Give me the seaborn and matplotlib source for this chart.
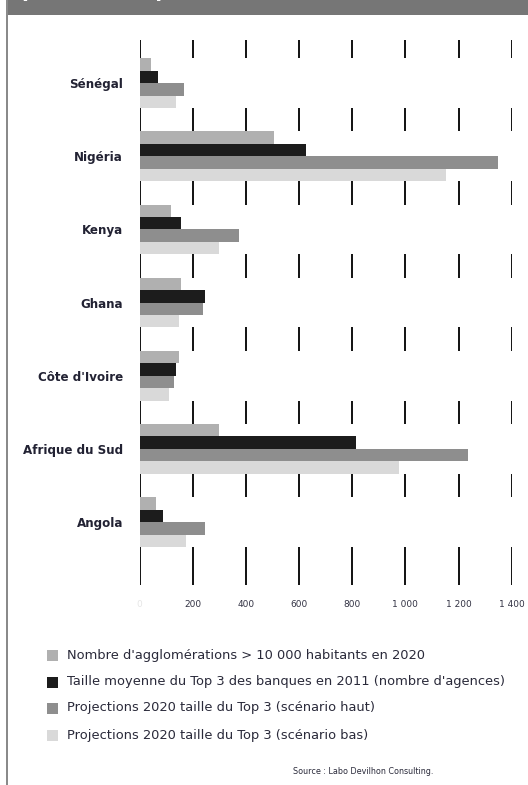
import numpy as np
import pandas as pd
import matplotlib
matplotlib.use("Agg")
import matplotlib.pyplot as plt
from matplotlib.patches import Rectangle
import seaborn as sns

# Countries and series
countries = ["Sénégal", "Nigéria", "Kenya", "Ghana", "Côte d'Ivoire", "Afrique du Sud", "Angola"]
series = [
    "Nombre d'agglomérations > 10 000 habitants en 2020",
    "Taille moyenne du Top 3 des banques en 2011 (nombre d'agences)",
    "Projections 2020 taille du Top 3 (scénario haut)",
    "Projections 2020 taille du Top 3 (scénario bas)",
]
agglomerations = [45, 505, 120, 157, 147, 300, 61]
taille_2011 = [70, 626, 157, 248, 139, 814, 90]
proj_haut = [167, 1347, 374, 238, 129, 1236, 248]
proj_bas = [137, 1154, 300, 147, 110, 975, 175]
x_ticks = [0, 200, 400, 600, 800, 1000, 1200, 1400]
x_tick_labels = ["0", "200", "400", "600", "800", "1 000", "1 200", "1 400"]
colors = ["#b0b0b0", "#1c1c1c", "#8e8e8e", "#d9d9d9"]

df = pd.DataFrame({
    "pays": countries * 4,
    "serie": np.repeat(series, len(countries)),
    "valeur": agglomerations + taille_2011 + proj_haut + proj_bas,
})

sns.set_theme(style="white")
plt.rcParams["font.family"] = ["DejaVu Sans"]

W, H = 528, 785
fig = plt.figure(figsize=(W / 100, H / 100), dpi=100)
fig.patch.set_facecolor("white")

ax = fig.add_axes([139.5 / W, 1 - 585 / H, 372.2 / W, 545 / H])
sns.barplot(data=df, y="pays", x="valeur", hue="serie", hue_order=series,
            order=countries, palette=colors, orient="h", width=0.68,
            saturation=1, legend=False, ax=ax, zorder=3, linewidth=0,
            edgecolor="none")

ax.set_xlim(0, 1400)
ax.set_ylim(6.86, -0.59)

# vertical reference lines, masked behind each group of bars
for xv in x_ticks:
    ax.axvline(xv, color="#111111", lw=1.4, zorder=1)
for i in range(len(countries)):
    ax.axhspan(i - 0.34, i + 0.34, color="white", lw=0, zorder=2)

for s in ax.spines.values():
    s.set_visible(False)
ax.set_xlabel("")
ax.set_ylabel("")
ax.set_xticks(x_ticks)
ax.set_xticklabels(x_tick_labels, fontsize=6.5, color="#333344")
ax.get_xticklabels()[0].set_color("#e6e6e6")
ax.tick_params(axis="x", length=0, pad=11)
ax.tick_params(axis="y", length=0, pad=12)
for lab in ax.get_yticklabels():
    lab.set_fontsize(8.6)
    lab.set_fontweight("bold")
    lab.set_color("#222233")

# title band and frame
fig.add_artist(Rectangle((7 / W, 1 - 15 / H), 1, 15 / H, transform=fig.transFigure,
                         facecolor="#767676", edgecolor="none", zorder=5))
fig.add_artist(Rectangle((6 / W, 0), 2 / W, 1, transform=fig.transFigure,
                         facecolor="#8a8a8a", edgecolor="none", zorder=5))
fig.text(-70 / W, 1 + 3 / H, "Les banques en Afrique (2020)", color="white", fontsize=14,
         fontweight="bold", va="baseline", ha="left", zorder=6)

# legend
rows_y = [655, 682, 708, 735]
for yv, lab, col in zip(rows_y, series, colors):
    fig.add_artist(Rectangle((47 / W, 1 - (yv + 5.5) / H), 11 / W, 11 / H,
                             transform=fig.transFigure, facecolor=col, edgecolor="none"))
    fig.text(67 / W, 1 - yv / H, lab, fontsize=9.4, color="#2a2a3a",
             va="center", ha="left")

fig.text(433 / W, 1 - 772 / H, "Source : Labo Devilhon Consulting.", fontsize=5.8,
         color="#2a2a3a", va="center", ha="right")

fig.savefig("out.png", dpi=100)
